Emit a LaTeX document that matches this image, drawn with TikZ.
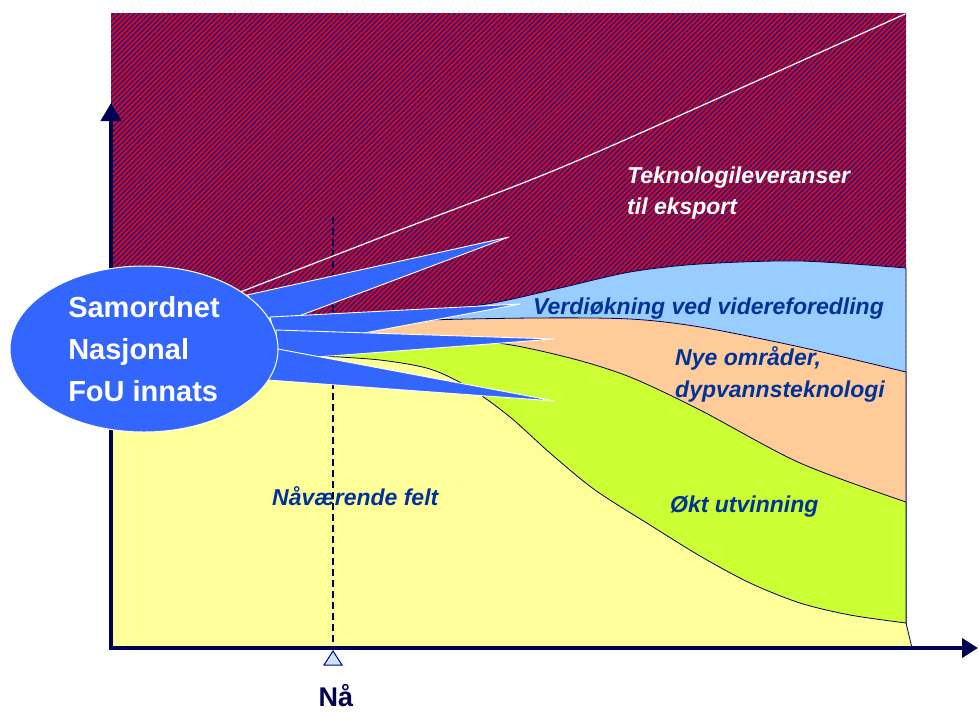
\documentclass[tikz,border=0pt]{standalone}
\usepackage{fontspec}
\setmainfont{Liberation Sans}
\usetikzlibrary{arrows.meta,patterns.meta,shapes.geometric}

\definecolor{axisnavy}{RGB}{0,0,80}
\definecolor{labelblue}{RGB}{0,51,153}
\definecolor{hatchred}{RGB}{255,0,0}
\definecolor{hatchblue}{RGB}{30,30,140}
\definecolor{bandblue}{RGB}{153,204,255}
\definecolor{bandorange}{RGB}{255,204,153}
\definecolor{bandgreen}{RGB}{204,255,51}
\definecolor{bandyellow}{RGB}{255,255,153}
\definecolor{calloutblue}{RGB}{51,102,255}
\definecolor{markblue}{RGB}{204,229,255}

\begin{document}
\begin{tikzpicture}[x=1pt,y=-1pt,
  lbl/.style={text=labelblue,font=\fontsize{23}{26}\selectfont\bfseries\itshape,inner sep=0pt,anchor=base west},
  band/.style={draw=axisnavy,line width=0.8pt},
  spike/.style={fill=calloutblue,draw=white,line width=0.9pt}]
\useasboundingbox (0,0) rectangle (979,713);

% hatched field
\fill[hatchred] (111,13) rectangle (906,648);
\fill[pattern={Lines[angle=45,distance=3.6pt,line width=1.8pt]},pattern color=hatchblue] (111,13) rectangle (906,648);

% bands
\path[band,fill=bandblue] plot[smooth] coordinates {(340,322) (407,312) (487,304) (560,288) (630,272) (700,264) (800,261) (906,268)} -- (906,648) -- (340,648) -- cycle;
\path[band,fill=bandorange] plot[smooth] coordinates {(345,330) (407,321) (533,318) (630,319) (700,327) (800,347) (906,372)} -- (906,648) -- (345,648) -- cycle;
\path[band,fill=bandgreen] plot[smooth] coordinates {(330,354) (430,345) (497,343) (570,358) (630,377) (700,410) (800,463) (906,502)} -- (906,648) -- (330,648) -- cycle;
\path[band,fill=bandyellow] (111,352) -- plot[smooth] coordinates {(322,356) (380,360) (430,369) (470,388) (510,417) (550,453) (595,490) (650,525) (700,556) (750,583) (800,603) (850,615) (906,623)} -- (912,648) -- (111,648) -- cycle;

% labels
\node[lbl,text=white] (tek1) at (627,183) {Teknologileveranser};
\node[lbl,text=white] (tek2) at (627,214) {til eksport};
\node[lbl] (verdi) at (533,314) {Verdiøkning ved videreforedling};
\node[lbl] (nye1) at (675,365) {Nye områder,};
\node[lbl] (nye2) at (675,397) {dypvannsteknologi};
\node[lbl] (okt) at (670,512) {Økt utvinning};
\node[lbl] (felt) at (272,505) {Nåværende felt};

\draw[axisnavy,line width=2.2pt,dash pattern=on 7pt off 4pt] (333,217) -- (333,648);
\draw[white,line width=1.2pt] plot[smooth] coordinates {(230,296) (400,230) (560,168) (750,84) (905,14)};

% axes
\draw[axisnavy,line width=4pt,-{Triangle[length=18pt,width=20pt]}] (111,650) -- (111,103);
\draw[axisnavy,line width=4pt,-{Triangle[length=16pt,width=19pt]}] (109,648) -- (978,648);
\draw[fill=markblue,draw=axisnavy!60!blue,line width=1pt] (333,651) -- (342,665) -- (324,665) -- cycle;
\node[font=\fontsize{27}{30}\selectfont\bfseries,text=axisnavy,anchor=base,inner sep=0pt] (naa) at (336,706) {Nå};

% callout
\path[spike] (247,295) -- (509,237) -- (275,325) -- cycle;
\path[spike] (270,317) -- (520,304) -- (278,349) -- cycle;
\path[spike] (276,330) -- (555,339) -- (277,360) -- cycle;
\path[spike] (278,349) -- (555,401) -- (268,380) -- cycle;
\node[ellipse,fill=calloutblue,draw=white,line width=1pt,minimum width=268pt,minimum height=166pt,inner sep=0pt,
  align=left,text=white,font=\fontsize{29}{42}\selectfont\bfseries] (callout) at (144,349) {Samordnet\\Nasjonal\\FoU innats};

\end{tikzpicture}
\end{document}
